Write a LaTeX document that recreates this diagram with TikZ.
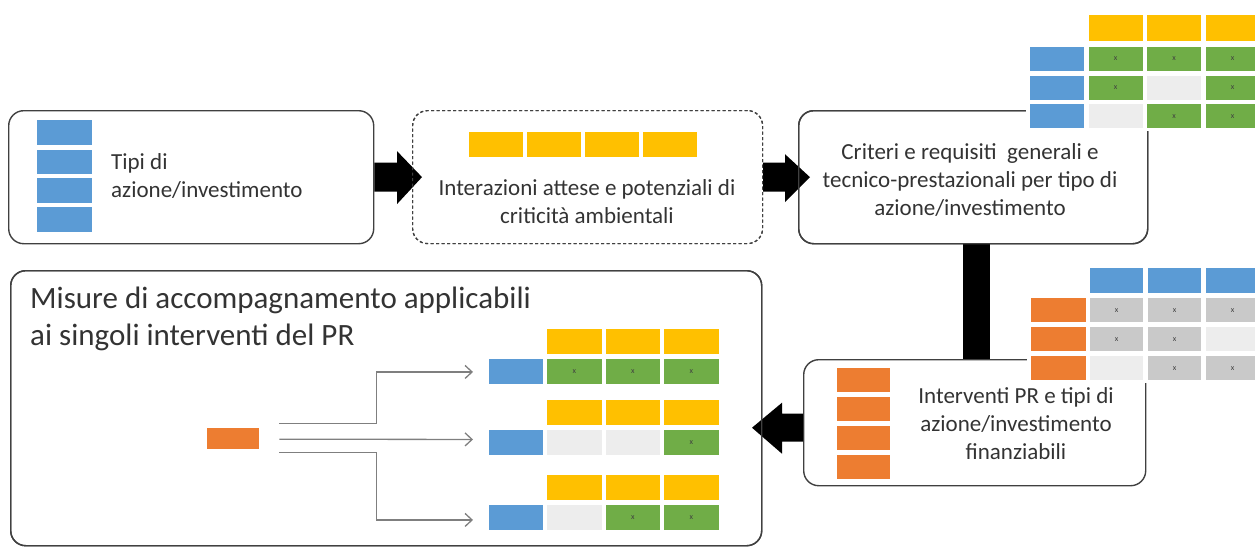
\documentclass[tikz,border=0pt]{standalone}
\usepackage{fontspec}
\setmainfont{Carlito}
\usetikzlibrary{arrows.meta,calc}
\definecolor{cyel}{HTML}{FFC000}
\definecolor{cblue}{HTML}{5B9BD5}
\definecolor{cgreen}{HTML}{70AD47}
\definecolor{corange}{HTML}{ED7D31}
\definecolor{cgrey}{HTML}{C9C9C9}
\definecolor{clight}{HTML}{EDEDED}
\definecolor{cline}{HTML}{404040}
\definecolor{ctext}{HTML}{333333}
\definecolor{cconn}{HTML}{7F7F7F}
\begin{document}
\begin{tikzpicture}[x=1pt,y=-1pt,
  box/.style={draw=cline, line width=1.4pt, rounded corners=15pt, anchor=north west, inner sep=0pt},
  dbox/.style={box, dash pattern=on 3pt off 2.5pt, line width=1.2pt},
  txt/.style={text=ctext, inner sep=0pt, font=\fontsize{23}{28}\selectfont},
  cellbox/.style={anchor=north west, inner sep=0pt, minimum width=54pt, minimum height=24pt,
     font=\fontsize{8}{8}\selectfont, text=black!75},
  bg/.style={fill=white, anchor=north west, inner sep=0pt},
  conn/.style={draw=cconn, line width=1.3pt, -{Straight Barb[length=7pt,width=13pt]}},
]
\useasboundingbox (0,0) rectangle (1255,547);

% ---------- boxes ----------
\node[box, minimum width=365pt, minimum height=133pt] (b1) at (8,110) {};
\node[dbox, minimum width=350pt, minimum height=133pt] (b2) at (412,110) {};
\node[box, minimum width=349pt, minimum height=133pt] (b3) at (798,110) {};
\node[box, minimum width=342pt, minimum height=126pt] (b4) at (803,359) {};
\node[box, minimum width=751pt, minimum height=275pt] (b5) at (10,270) {};

% ---------- block arrows ----------
\fill[black] ($(b1.east)+(0,-14.5)$) -- ($(b2.west)+(-15,-14.5)$) -- ($(b2.west)+(-15,-26)$)
  -- ($(b2.west)+(10,0)$) -- ($(b2.west)+(-15,27)$) -- ($(b2.west)+(-15,14.5)$)
  -- ($(b1.east)+(0,14.5)$) -- cycle;
\fill[black] ($(b2.east)+(0,-14.5)$) -- ($(b3.west)+(-13,-14.5)$) -- ($(b3.west)+(-13,-23)$)
  -- ($(b3.west)+(12,0)$) -- ($(b3.west)+(-13,25)$) -- ($(b3.west)+(-13,14.5)$)
  -- ($(b2.east)+(0,14.5)$) -- cycle;
\fill[black] ($(b3.south)+(-10.5,0)$) rectangle ($(b3.south |- b4.north)+(16.5,0)$);
\fill[black] ($(b4.west)+(0,-9)$) -- ++(-21,0) -- ++(0,-11) -- ($(b4.west)+(-51,5)$)
  -- ($(b4.west)+(-21,31)$) -- ++(0,-12) -- ($(b4.west)+(0,19)$) -- cycle;

% redraw box borders over arrow tips
\node[dbox, minimum width=350pt, minimum height=133pt] (b2r) at (412,110) {};
\node[box, minimum width=349pt, minimum height=133pt] (b3r) at (798,110) {};
\node[box, minimum width=751pt, minimum height=275pt] (b5r) at (10,270) {};

% ---------- box 1 ----------
\foreach \i/\y in {1/120,2/149.5,3/178,4/207}
  \node[cellbox, fill=cblue, minimum width=55pt, minimum height=24.5pt] (b1s\i) at (37,\y) {};
\node[txt, align=left, anchor=west] (t1) at (111,176) {\fontsize{23}{30}\selectfont Tipi di\\azione/investimento};

% ---------- box 2 ----------
\foreach \i/\x in {1/469,2/527,3/585,4/643}
  \node[cellbox, fill=cyel, minimum width=54pt, minimum height=25pt] (b2s\i) at (\x,132) {};
\node[txt, align=center] (t2) at (587,201.5) {Interazioni attese e potenziali di\\criticità ambientali};

% ---------- box 3 ----------
\node[txt, align=center] (t3) at (970,180) {Criteri e requisiti\ \ generali e\\tecnico-prestazionali per tipo di\\azione/investimento};

% top-right matrix
\node[bg, minimum width=230pt, minimum height=120pt] (trbg) at (1026,11) {};
\foreach \c/\x in {1/1088.5,2/1147,3/1205.5}
  \node[cellbox, fill=cyel, minimum height=26pt] (trh\c) at (\x,15) {};
\foreach \r/\y in {1/46.5,2/75.5,3/104}
  \node[cellbox, fill=cblue] (trb\r) at (1030,\y) {};
\foreach \n/\x/\y in {tr11/1088.5/46.5,tr12/1147/46.5,tr13/1205.5/46.5,
                      tr21/1088.5/75.5,tr23/1205.5/75.5,
                      tr32/1147/104,tr33/1205.5/104}
  \node[cellbox, fill=cgreen] (\n) at (\x,\y) {x};
\foreach \n/\x/\y in {tr22/1147/75.5,tr31/1088.5/104}
  \node[cellbox, fill=clight] (\n) at (\x,\y) {};

% ---------- box 4 ----------
\foreach \i/\y in {1/368,2/397,3/426,4/455}
  \node[cellbox, fill=corange, minimum width=53pt, minimum height=23.5pt] (b4s\i) at (837,\y) {};
\node[txt, align=center] (t4) at (1016,424) {\fontsize{23}{29}\selectfont Interventi PR e tipi di\\azione/investimento\\finanziabili};

% middle-right matrix
\node[bg, minimum width=230pt, minimum height=119pt] (mrbg) at (1027,264) {};
\foreach \c/\x in {1/1090,2/1148,3/1206}
  \node[cellbox, fill=cblue, minimum width=53pt, minimum height=25pt] (mrh\c) at (\x,268) {};
\foreach \r/\y in {1/298,2/327,3/356}
  \node[cellbox, fill=corange, minimum width=55pt] (mro\r) at (1031,\y) {};
\foreach \n/\x/\y in {mr11/1090/298,mr12/1148/298,mr13/1206/298,
                      mr21/1090/327,mr22/1148/327,
                      mr32/1148/356,mr33/1206/356}
  \node[cellbox, fill=cgrey, minimum width=53pt] (\n) at (\x,\y) {x};
\foreach \n/\x/\y in {mr23/1206/327,mr31/1090/356}
  \node[cellbox, fill=clight, minimum width=53pt] (\n) at (\x,\y) {};

% ---------- box 5 ----------
\node[text=ctext, inner sep=0pt, align=left, anchor=north west,
      font=\fontsize{31}{37}\selectfont] (t5) at (30,287) {Misure di accompagnamento applicabili\\ai singoli interventi del PR};

\node[cellbox, fill=corange, minimum width=52pt, minimum height=21pt] (or) at (207,428) {};

% three small matrices
\foreach \m/\hy/\ry in {a/329/359,b/400/430,c/475/505}{
  \foreach \c/\x in {1/547,2/605.5,3/664}
    \node[cellbox, fill=cyel, minimum width=54.5pt, minimum height=25pt] (\m h\c) at (\x,\hy) {};
  \node[cellbox, fill=cblue, minimum width=54pt, minimum height=24.5pt] (\m b) at (489,\ry) {};
}
\foreach \n/\x/\y in {a1/547/359,a2/605.5/359,a3/664/359,b3/664/430,c2/605.5/505,c3/664/505}
  \node[cellbox, fill=cgreen, minimum width=54.5pt, minimum height=24.5pt] (\n) at (\x,\y) {x};
\foreach \n/\x/\y in {b1/547/430,b2/605.5/430,c1/547/505}
  \node[cellbox, fill=clight, minimum width=54.5pt, minimum height=24.5pt] (\n) at (\x,\y) {};

% connectors
\coordinate (s1) at ($(or.east)+(20,-15.5)$);
\coordinate (s2) at ($(or.east)+(20,0.5)$);
\coordinate (s3) at ($(or.east)+(20,13.5)$);
\coordinate (e1) at ($(ab.west)+(-16,0.5)$);
\coordinate (e2) at ($(bb.west)+(-16,-3)$);
\coordinate (e3) at ($(cb.west)+(-16,2.5)$);
\draw[conn] (s1) -- ++(97,0) |- (e1);
\draw[conn] (s2) -- (e2);
\draw[conn] (s3) -- ++(97,0) |- (e3);
\end{tikzpicture}
\end{document}
